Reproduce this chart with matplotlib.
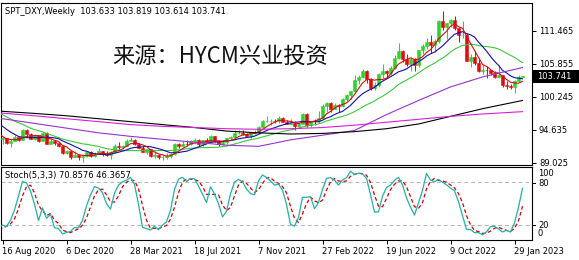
import numpy as np
import pandas as pd
import matplotlib
matplotlib.use("Agg")
import matplotlib.pyplot as plt
from matplotlib.patches import Rectangle

W, H = 579, 260

# ---------------- data ----------------
# weekly bars; index 0 = week of 16 Aug 2020, first bar (index -20) = 29 Mar 2020, last (130) = 12 Feb 2023
first_index = -20
bar_open = [98.40, 100.60, 99.50, 99.80, 100.40, 99.00, 99.70, 100.40, 99.80, 98.40,
            96.90, 97.30, 97.60, 97.40, 97.20, 96.60, 96.00, 94.40, 93.30, 93.43,
            93.10, 93.24, 92.37, 92.72, 93.33, 92.93, 94.64, 93.84, 93.06, 93.69,
            92.77, 94.04, 92.23, 92.76, 92.39, 91.79, 90.70, 90.98, 90.02, 90.32,
            89.94, 90.10, 90.77, 90.24, 90.58, 91.03, 90.48, 90.36, 90.88, 91.94,
            91.67, 91.92, 92.77, 92.95, 92.16, 91.56, 90.86, 91.28, 90.22, 90.31,
            89.99, 90.03, 90.13, 90.55, 92.23, 91.84, 92.23, 92.12, 92.69, 92.89,
            92.18, 92.80, 92.52, 93.50, 92.67, 92.13, 92.58, 93.20, 93.32, 94.04,
            94.07, 93.96, 93.62, 94.12, 94.32, 95.12, 96.03, 96.09, 96.16, 96.12,
            96.63, 96.01, 95.67, 95.75, 95.19, 95.64, 97.28, 95.51, 96.07, 96.05,
            96.62, 98.67, 99.13, 98.22, 98.79, 98.63, 99.79, 100.50, 101.13, 103.00,
            103.66, 104.56, 103.22, 101.67, 102.17, 104.15, 104.68, 104.19, 105.13, 106.88,
            108.09, 106.72, 105.85, 106.62, 105.64, 108.16, 108.82, 109.54, 109.00, 109.79,
            113.14, 112.12, 112.73, 113.31, 111.88, 110.69, 110.81, 106.29, 106.92, 106.00,
            104.53, 104.81, 104.72, 104.31, 103.52, 103.89, 102.20, 101.99, 101.93, 102.92,
            103.633]
bar_high = [100.90, 100.90, 100.20, 100.90, 100.60, 100.40, 100.60, 100.60, 100.00, 98.50,
            97.40, 97.80, 97.70, 97.80, 97.30, 96.80, 96.10, 94.70, 93.90, 93.90,
            93.36, 93.25, 92.99, 93.66, 93.41, 94.74, 94.72, 94.05, 93.88, 93.77,
            94.30, 94.30, 93.20, 92.87, 92.60, 91.92, 91.19, 91.07, 91.03, 90.50,
            90.28, 90.95, 90.95, 90.91, 91.60, 91.05, 91.00, 90.96, 92.20, 92.50,
            92.08, 92.98, 93.44, 93.00, 92.33, 91.78, 91.34, 91.43, 91.00, 90.44,
            90.41, 90.63, 90.66, 92.41, 92.41, 92.74, 92.83, 92.84, 93.19, 93.02,
            92.87, 93.20, 93.73, 93.57, 92.88, 92.84, 93.27, 93.50, 94.50, 94.50,
            94.56, 94.04, 94.19, 94.63, 95.27, 96.27, 96.94, 96.45, 96.45, 96.91,
            96.79, 96.29, 96.47, 96.06, 95.82, 97.44, 97.40, 96.09, 96.43, 97.74,
            98.93, 99.42, 99.30, 99.13, 99.00, 99.95, 100.76, 101.24, 103.93, 103.94,
            105.01, 104.86, 103.43, 102.74, 104.24, 105.79, 104.78, 105.43, 107.27, 109.29,
            108.20, 107.43, 106.93, 106.78, 108.20, 109.27, 110.27, 110.79, 110.04, 113.33,
            114.78, 112.76, 113.49, 113.95, 112.13, 113.15, 111.14, 107.50, 107.99, 106.76,
            105.88, 105.50, 104.86, 104.56, 105.63, 103.96, 102.90, 102.41, 103.01, 103.96,
            103.819]
bar_low = [98.30, 99.40, 98.80, 99.70, 98.80, 98.80, 99.60, 99.00, 98.20, 96.50,
           95.70, 96.40, 96.50, 96.70, 96.20, 95.70, 94.40, 92.50, 92.50, 92.79,
           92.13, 92.15, 91.75, 92.67, 92.70, 92.82, 93.46, 92.97, 92.92, 92.48,
           92.76, 92.13, 92.13, 92.05, 91.69, 90.47, 90.42, 89.72, 89.96, 89.49,
           89.21, 89.92, 89.96, 89.91, 90.46, 90.21, 90.13, 89.68, 90.63, 91.40,
           91.30, 91.78, 92.70, 91.99, 91.50, 90.82, 90.42, 89.98, 89.86, 89.65,
           89.53, 89.66, 89.81, 90.37, 91.51, 91.77, 91.86, 92.00, 92.43, 91.78,
           91.94, 92.47, 92.50, 92.52, 91.94, 92.04, 92.22, 92.85, 93.20, 93.83,
           93.77, 93.50, 93.28, 93.87, 93.87, 94.96, 95.92, 95.51, 95.82, 95.82,
           95.95, 95.54, 95.60, 94.63, 94.91, 95.62, 95.14, 95.17, 95.51, 95.71,
           96.55, 97.71, 97.71, 98.12, 97.68, 98.53, 99.50, 99.82, 101.07, 102.35,
           103.50, 102.65, 101.43, 101.30, 101.89, 103.41, 103.67, 103.86, 104.89, 106.60,
           106.11, 105.54, 104.64, 104.64, 105.27, 107.58, 108.41, 107.68, 107.77, 109.35,
           111.52, 110.05, 112.07, 111.65, 109.54, 110.21, 106.27, 105.34, 105.63, 104.37,
           104.11, 103.44, 103.96, 103.38, 103.40, 101.85, 101.53, 101.50, 100.82, 102.82,
           103.614]
bar_close = [100.60, 99.50, 99.80, 100.40, 99.00, 99.70, 100.40, 99.80, 98.40, 96.90,
             97.30, 97.60, 97.40, 97.20, 96.60, 96.00, 94.40, 93.30, 93.40, 93.10,
             93.24, 92.37, 92.72, 93.33, 92.93, 94.64, 93.84, 93.06, 93.69, 92.77,
             94.04, 92.23, 92.76, 92.39, 91.79, 90.70, 90.98, 90.02, 90.32, 89.94,
             90.10, 90.77, 90.24, 90.58, 91.03, 90.48, 90.36, 90.88, 91.94, 91.67,
             91.92, 92.77, 92.95, 92.16, 91.56, 90.86, 91.28, 90.22, 90.31, 89.99,
             90.03, 90.13, 90.55, 92.23, 91.84, 92.23, 92.12, 92.69, 92.89, 92.18,
             92.80, 92.52, 93.50, 92.67, 92.13, 92.58, 93.20, 93.32, 94.04, 94.07,
             93.96, 93.62, 94.12, 94.32, 95.12, 96.03, 96.09, 96.16, 96.12, 96.63,
             96.01, 95.67, 95.75, 95.19, 95.64, 97.28, 95.51, 96.07, 96.05, 96.62,
             98.67, 99.13, 98.22, 98.79, 98.63, 99.79, 100.50, 101.13, 103.00, 103.66,
             104.56, 103.22, 101.67, 102.17, 104.15, 104.68, 104.19, 105.13, 106.88, 108.09,
             106.72, 105.85, 106.62, 105.64, 108.16, 108.82, 109.54, 109.00, 109.79, 113.14,
             112.12, 112.73, 113.31, 111.88, 110.69, 110.81, 106.29, 106.92, 106.00, 104.53,
             104.81, 104.72, 104.31, 103.52, 103.89, 102.20, 101.99, 101.93, 102.92, 103.63,
             103.741]

# long moving averages (bar index -> value)
ma_long_idx = [-1, 8, 16, 24, 32, 40, 48, 56, 64, 72, 80, 88, 96, 104, 112, 120, 130]
ma50_vals = [96.6, 95.7, 94.9, 94.1, 93.5, 93.0, 92.5, 92.0, 91.8, 92.9, 93.7, 94.5,
             97.2, 99.6, 101.9, 103.6, 105.2]
ma100_vals = [97.8, 97.4, 97.0, 96.5, 96.0, 95.5, 95.0, 94.4, 94.1, 93.9, 94.0, 94.3,
              94.8, 95.6, 96.9, 98.2, 99.6]
ma200_vals = [97.5, 97.0, 96.5, 96.0, 95.5, 95.2, 95.0, 94.8, 94.7, 94.8, 95.0, 95.4,
              95.9, 96.4, 96.9, 97.3, 97.7]

price_ticks = [89.025, 94.635, 100.245, 105.855, 111.465]
date_tick_idx = [0, 16, 32, 48, 64, 80, 96, 112, 128]
date_tick_labels = ["16 Aug 2020", "6 Dec 2020", "28 Mar 2021", "18 Jul 2021", "7 Nov 2021",
                    "27 Feb 2022", "19 Jun 2022", "9 Oct 2022", "29 Jan 2023"]
last_price = "103.741"
title_text = "SPT_DXY,Weekly  103.633 103.819 103.614 103.741"
stoch_text = "Stoch(5,3,3) 70.8576 46.3657"
watermark = "来源：HYCM兴业投资"

# ---------------- derived ----------------
df = pd.DataFrame({"o": bar_open, "h": bar_high, "l": bar_low, "c": bar_close})
df["x"] = np.arange(len(df)) + first_index
df["ma5"] = df["c"].rolling(5).mean()
df["ma10"] = df["c"].rolling(10).mean()
df["ma20"] = df["c"].rolling(20).mean()
hh = df["h"].rolling(5).max()
ll = df["l"].rolling(5).min()
num = (df["c"] - ll).rolling(3).sum()
den = (hh - ll).rolling(3).sum()
df["k"] = 100 * num / den
df["d"] = df["k"].rolling(3).mean()

# ---------------- figure ----------------
plt.rcParams["font.family"] = ["DejaVu Sans"]
FS = 6.0
fig = plt.figure(figsize=(W / 100, H / 100), dpi=100)
fig.patch.set_facecolor("white")


def fx(p):
    return p / W


def fy(p):
    return 1 - p / H


xl = (-0.375, 132.375)
ax = fig.add_axes([fx(1), fy(165), fx(532) - fx(1), (165 - 3) / H])
ax2 = fig.add_axes([fx(1), fy(239.5), fx(532) - fx(1), (239.5 - 167) / H])

for a in (ax, ax2):
    a.set_xlim(*xl)
    for s in a.spines.values():
        s.set_linewidth(0.8)
        s.set_color("black")
    a.set_facecolor("white")

ax.set_ylim(88.63, 116.17)

# candles
up = df["c"] >= df["o"]
green = "#2ed12e"
red = "#e00c0c"
cols = np.where(up, green, red)
ax.vlines(df["x"], df["l"], df["h"], colors=cols, linewidth=0.75, zorder=2)
bottoms = np.minimum(df["o"], df["c"])
heights = np.abs(df["c"] - df["o"])
ax.bar(df["x"], heights, bottom=bottoms, width=0.72, color=cols, edgecolor=cols,
       linewidth=0.4, zorder=3)

# moving averages
ax.plot(df["x"], df["ma20"], color="#3cc83c", lw=0.8, zorder=4)
ax.plot(df["x"], df["ma10"], color="#1010a8", lw=0.8, zorder=4)
ax.plot(df["x"], df["ma5"], color="#d01010", lw=0.8, zorder=4)
ax.plot(ma_long_idx, ma50_vals, color="#9932cc", lw=0.8, zorder=4)
ax.plot(ma_long_idx, ma100_vals, color="black", lw=0.8, zorder=4)
ax.plot(ma_long_idx, ma200_vals, color="#d81ed8", lw=0.8, zorder=4)

ax.set_xticks([])
ax.yaxis.tick_right()
ax.set_yticks(price_ticks)
ax.set_yticklabels([f"{v:.3f}" for v in price_ticks])
ax.tick_params(axis="y", length=3, width=0.7, pad=2, labelsize=FS, colors="black")

# stochastic panel
ax2.set_ylim(0, 100)
for lvl in (20, 80):
    ax2.axhline(lvl, color="#b4b4b4", lw=0.7, ls=(0, (4, 3)), zorder=1)
ax2.plot(df["x"], df["k"], color="#20b2aa", lw=0.9, zorder=3)
ax2.plot(df["x"], df["d"], color="#d00000", lw=0.9, ls=(0, (3, 2)), zorder=2)
ax2.set_yticks([])
ax2.set_xticks(date_tick_idx)
ax2.set_xticklabels(date_tick_labels)
for lbl in ax2.get_xticklabels():
    lbl.set_ha("left")
ax2.tick_params(axis="x", length=3, width=0.7, pad=2.5, labelsize=FS)

for txt, ypix in (("100", 174), ("80", 183), ("20", 225), ("0", 233)):
    fig.text(fx(538), fy(ypix), txt, fontsize=FS, va="center", ha="left")
for ypix in (183, 225):
    fig.add_artist(plt.Line2D([fx(532), fx(535)], [fy(ypix), fy(ypix)], color="black", lw=0.7))

# texts
fig.text(fx(5), fy(11), title_text, fontsize=FS, va="center", ha="left")
fig.text(fx(5), fy(175.5), stoch_text, fontsize=FS, va="center", ha="left", zorder=10)
fig.text(fx(112), fy(63), watermark, fontsize=16, va="baseline", ha="left",
         family=["Noto Sans CJK SC", "DejaVu Sans"], color="#111111")

# current price box
fig.add_artist(Rectangle((fx(533), fy(82.5)), fx(579) - fx(533), 12.5 / H,
                         transform=fig.transFigure, facecolor="black", edgecolor="none"))
fig.text(fx(537), fy(76.2), last_price, color="white", fontsize=FS, va="center", ha="left")

fig.savefig("out.png", dpi=100)
